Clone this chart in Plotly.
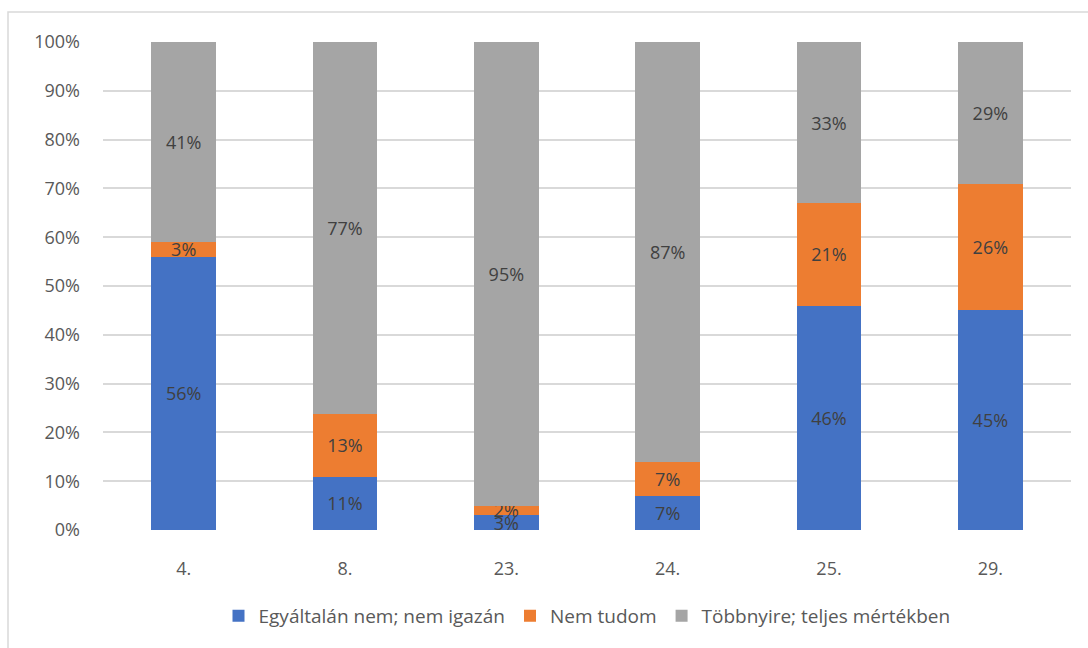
import plotly.graph_objects as go

categories = ["4.", "8.", "23.", "24.", "25.", "29."]
series_names = ["Egyáltalán nem; nem igazán", "Nem tudom", "Többnyire; teljes mértékben"]
egyaltalan = [56, 11, 3, 7, 46, 45]
nem_tudom = [3, 13, 2, 7, 21, 26]
tobbnyire = [41, 77, 95, 87, 33, 29]
colors = ["#4472C4", "#ED7D31", "#A5A5A5"]
y_ticks = [0, 10, 20, 30, 40, 50, 60, 70, 80, 90, 100]
y_tick_labels = [f"{v}%" for v in y_ticks]

W, H = 1088, 648
L, R, T, B = 103, 17, 42, 118
pw, ph = W - L - R, H - T - B

font_family = "Open Sans, sans-serif"
fig = go.Figure()
for name, vals, col in zip(series_names, [egyaltalan, nem_tudom, tobbnyire], colors):
    fig.add_trace(go.Bar(
        x=categories, y=vals, name=name,
        marker=dict(color=col, line=dict(width=0)),
        text=[f"{v}%" for v in vals],
        textposition="inside", insidetextanchor="middle",
        constraintext="none", cliponaxis=False,
        textfont=dict(color="#404040", size=18, family=font_family),
        textangle=0,
        hoverinfo="skip",
    ))

fig.update_layout(
    barmode="stack", barnorm="percent", bargap=0.6,
    width=W, height=H,
    margin=dict(l=L, r=R, t=T, b=B, autoexpand=False),
    paper_bgcolor="white", plot_bgcolor="white",
    font=dict(family=font_family, color="#595959", size=18),
    showlegend=True,
    legend=dict(orientation="h", x=0.5, xanchor="center", y=-(616 - 530) / ph, yanchor="middle",
                font=dict(size=19, color="#595959"), traceorder="normal",
                itemwidth=30),
    xaxis=dict(showgrid=False, showline=False, ticks="", tickfont=dict(size=18, color="#595959"),
               ticklabelstandoff=26),
    yaxis=dict(range=[0, 100], tickvals=y_ticks, ticktext=y_tick_labels,
               showgrid=True, gridcolor="#D9D9D9", gridwidth=1.5, zeroline=False,
               showline=False, ticks="", tickfont=dict(size=18, color="#595959"),
               ticklabelstandoff=22),
    shapes=[dict(type="rect", xref="paper", yref="paper",
                 x0=(8 - L) / pw, x1=(W + 5 - L) / pw,
                 y0=-(H + 5 - (T + ph)) / ph, y1=(T + ph - 12) / ph,
                 line=dict(color="#D9D9D9", width=1.5), fillcolor="rgba(0,0,0,0)", layer="below")],
)
fig.write_html("out.html")
